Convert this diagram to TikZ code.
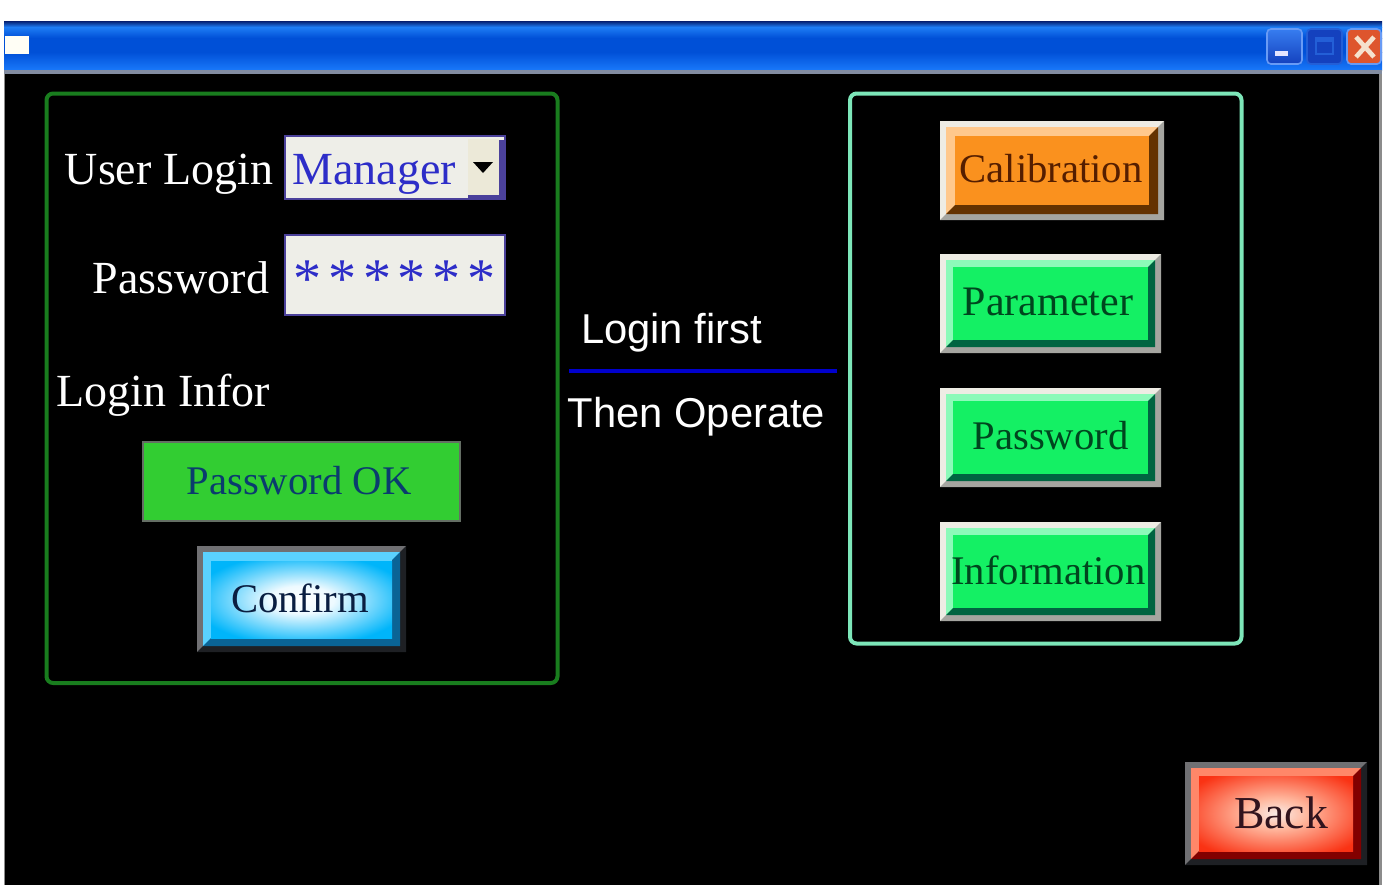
\documentclass[tikz,border=0pt]{standalone}
\usepackage{fontspec}
\setmainfont{Liberation Serif}
\newfontfamily\uisans{Liberation Sans}
\usetikzlibrary{calc}
\definecolor{tbDark}{RGB}{5,30,110}
\definecolor{tbLight}{RGB}{30,125,245}
\definecolor{tbMid}{RGB}{0,80,215}
\definecolor{tbLow}{RGB}{25,120,250}
\definecolor{tbLine}{RGB}{130,140,160}
\definecolor{edgeGray}{RGB}{140,140,140}
\definecolor{frameGreen}{RGB}{25,125,30}
\definecolor{frameMint}{RGB}{125,230,185}
\definecolor{fieldFill}{RGB}{238,238,232}
\definecolor{fieldEdge}{RGB}{75,65,155}
\definecolor{fieldText}{RGB}{45,45,200}
\definecolor{arrowFace}{RGB}{236,233,216}
\definecolor{okFill}{RGB}{50,205,50}
\definecolor{okEdge}{RGB}{100,110,100}
\definecolor{okText}{RGB}{10,60,110}
% light raised frame
\definecolor{liteTL}{RGB}{238,236,228}
\definecolor{liteBR}{RGB}{165,165,160}
% dark raised frame
\definecolor{darkTL}{RGB}{112,112,115}
\definecolor{darkBR}{RGB}{30,32,36}
\definecolor{orgFace}{RGB}{250,145,30}
\definecolor{orgTL}{RGB}{255,200,140}
\definecolor{orgBR}{RGB}{100,50,0}
\definecolor{orgText}{RGB}{85,30,0}
\definecolor{grnFace}{RGB}{20,240,100}
\definecolor{grnTL}{RGB}{140,250,185}
\definecolor{grnBR}{RGB}{0,100,65}
\definecolor{grnText}{RGB}{0,70,30}
\definecolor{bluFace}{RGB}{0,180,250}
\definecolor{bluTL}{RGB}{90,210,255}
\definecolor{bluBR}{RGB}{10,100,150}
\definecolor{bluText}{RGB}{10,30,65}
\definecolor{redFace}{RGB}{250,35,10}
\definecolor{redTL}{RGB}{255,135,105}
\definecolor{redBR}{RGB}{130,0,0}
\definecolor{redText}{RGB}{50,20,30}
\definecolor{capBtnA}{RGB}{55,125,240}
\definecolor{capBtnB}{RGB}{20,65,190}
\definecolor{capEdge}{RGB}{105,155,245}
\definecolor{capDim}{RGB}{35,95,215}
\definecolor{capClose}{RGB}{222,85,45}
\definecolor{capX}{RGB}{245,225,205}
\pgfdeclareradialshading{backglow}{\pgfpoint{0bp}{0bp}}{rgb(0bp)=(0.98,0.92,0.9);rgb(10bp)=(1,0.72,0.62);rgb(32bp)=(0.98,0.2,0.08);rgb(50bp)=(0.98,0.12,0.04)}
\pgfdeclareradialshading{confirmglow}{\pgfpoint{0bp}{0bp}}{rgb(0bp)=(1,1,1);rgb(9bp)=(0.93,0.98,1);rgb(30bp)=(0,0.71,0.98);rgb(50bp)=(0,0.71,0.98)}
\newcommand{\uifont}[1]{\fontsize{#1pt}{#1pt}\selectfont}
% \bevel{x0}{y0}{x1}{y1}{frame width}{face inset from frame}{frame prefix}{bevel prefix}
\newcommand{\bevel}[8]{%
  \fill[#7TL] (#1,#2) rectangle (#3,#4);
  \fill[#7BR] (#3,#2) -- (#3,#4) -- (#1,#4) -- (#1+#5,#4-#5) -- (#3-#5,#4-#5) -- (#3-#5,#2+#5) -- cycle;
  \fill[#8TL] (#1+#5,#2+#5) rectangle (#3-#5,#4-#5);
  \fill[#8BR] (#3-#5,#2+#5) -- (#3-#5,#4-#5) -- (#1+#5,#4-#5) -- (#1+#5+#6,#4-#5-#6) -- (#3-#5-#6,#4-#5-#6) -- (#3-#5-#6,#2+#5+#6) -- cycle;
}
\tikzset{
  every node/.style={inner sep=0pt,outer sep=0pt},
  panel/.style={draw,line width=3pt,rounded corners=5pt},
  serifLabel/.style={anchor=base,text=white,font=\uifont{34.5}},
  fieldBox/.style={fill=fieldFill,draw=fieldEdge,line width=2pt},
  fieldLabel/.style={anchor=base,text=fieldText,font=\uifont{34.5}},
  sansLabel/.style={anchor=base,text=white,font=\uisans\uifont{31.3}},
  btnLabel/.style={anchor=base,font=\uifont{30.5}},
  capBtn/.style={draw=capEdge,line width=1.2pt,rounded corners=3pt},
}
\begin{document}
\begin{tikzpicture}[x=0.75pt,y=-0.75pt]
\useasboundingbox (0,0) rectangle (1389,885);
\fill[white] (0,0) rectangle (1389,885);
% window body
\fill[black] (4,21) rectangle (1382,885);
\fill[edgeGray] (1379,74) rectangle (1382,885);
\fill[edgeGray] (4,74) rectangle (5,885);
% title bar
\shade[top color=tbDark,bottom color=tbLight] (4,21) rectangle (1382,27);
\shade[top color=tbLight,bottom color=tbMid] (4,27) rectangle (1382,38);
\shade[top color=tbMid,bottom color=tbMid] (4,38) rectangle (1382,52);
\shade[top color=tbMid,bottom color=tbLow] (4,52) rectangle (1382,70);
\fill[tbLine] (4,70) rectangle (1382,74);
% title icon
\fill[white!96!yellow] (5,36) rectangle (29,54);
% caption buttons
\shade[capBtn,top color=capBtnA,bottom color=capBtnB] (1267,29) rectangle (1302,64);
\fill[white!90!blue] (1275,51) rectangle (1288,56);
\shade[capBtn,draw=capDim,top color=capBtnB,bottom color=capBtnB] (1307,29) rectangle (1342,64);
\draw[capDim,line width=1.2pt] (1316,38) rectangle (1333,54);
\fill[capDim] (1316,38) rectangle (1333,42);
\fill[capBtn,fill=capClose] (1347,29) rectangle (1381,64);
\draw[capX,line width=3.5pt] (1356,37) -- (1374,57) (1374,37) -- (1356,57);
% panels
\draw[panel,frameGreen] (46.5,93.5) rectangle (557.5,683);
\draw[panel,frameMint] (850,93.5) rectangle (1241.5,643.5);
% login side
\node[serifLabel] (userlogin) at (169,184) {User Login};
\draw[fieldBox] (285,136) rectangle (505,199);
\fill[fieldEdge] (499,140) rectangle (505,199);
\fill[fieldEdge] (468,195) rectangle (505,199);
\fill[arrowFace] (468,139) rectangle (499,195);
\fill[black] (473,162) -- (493,162) -- (483,173) -- cycle;
\node[fieldLabel] (manager) at (374,184) {Manager};
\node[serifLabel] (passlabel) at (181,293) {Password};
\draw[fieldBox] (285,235) rectangle (505,315);
\node[fieldLabel,font=\uifont{42}] (stars) at (394.5,297) {*\kern5pt*\kern5pt*\kern5pt*\kern5pt*\kern5pt*};
\node[serifLabel] (logininfor) at (163.5,406) {Login Infor};
\draw[fill=okFill,draw=okEdge,line width=2pt] (143,442) rectangle (460,521);
\node[btnLabel,text=okText] (passok) at (299,494) {Password OK};
\bevel{197}{546}{406}{652}{6}{8}{dark}{blu}
\shade[shading=confirmglow] (211,561) rectangle (392,638);
\node[btnLabel,text=bluText] (confirm) at (300,612) {Confirm};
% centre note
\node[sansLabel] (loginfirst) at (671.5,343) {Login first};
\coordinate (ruleL) at (569,371);
\coordinate (ruleR) at (837,371);
\draw[blue!80!black,line width=3pt] (ruleL) -- (ruleR);
\node[sansLabel] (thenop) at (696.5,427) {Then Operate};
% right side
\bevel{940}{121}{1164}{220}{6}{9}{lite}{org}
\fill[orgFace] (955,136) rectangle (1149,205);
\node[btnLabel,text=orgText] (calib) at (1051,182) {Calibration};
\bevel{940}{254}{1161}{353}{6}{7}{lite}{grn}
\fill[grnFace] (953,267) rectangle (1148,340);
\node[btnLabel,text=grnText,font=\uifont{31.5}] (param) at (1048,315) {Parameter};
\bevel{940}{388}{1161}{487}{6}{7}{lite}{grn}
\fill[grnFace] (953,401) rectangle (1148,474);
\node[btnLabel,text=grnText] (passbtn) at (1050.5,449) {Password};
\bevel{940}{522}{1161}{621}{6}{7}{lite}{grn}
\fill[grnFace] (953,535) rectangle (1148,608);
\node[btnLabel,text=grnText] (info) at (1048.5,584) {Information};
% back
\bevel{1185}{762}{1367}{865}{6}{8}{dark}{red}
\shade[shading=backglow] (1199,776) rectangle (1353,851);
\node[btnLabel,text=redText,font=\uifont{34.3}] (back) at (1281,828) {Back};
\end{tikzpicture}
\end{document}
